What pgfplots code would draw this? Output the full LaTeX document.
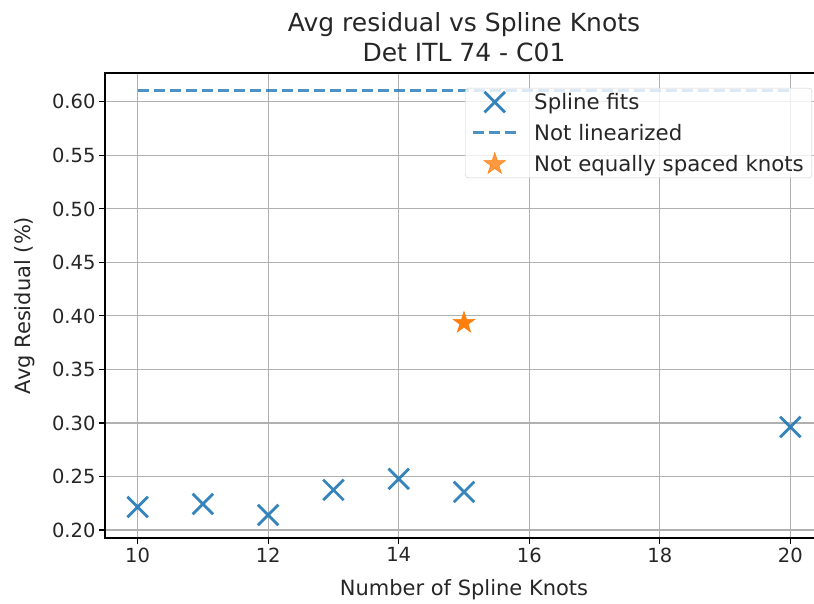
\documentclass[border=0pt]{standalone}
\usepackage{pgfplots}
\pgfplotsset{compat=1.18}
\usepackage{fontspec}
\setmainfont{DejaVu Sans}
\usetikzlibrary{plotmarks}
\definecolor{mplblue}{HTML}{1F77B4}
\definecolor{mplorange}{HTML}{FF7F0E}
\definecolor{gridgray}{HTML}{B0B0B0}
\pgfdeclareplotmark{fstar}{%
  \pgfpathmoveto{\pgfpointpolar{90}{\pgfplotmarksize}}%
  \pgfpathlineto{\pgfpointpolar{126}{0.382\pgfplotmarksize}}%
  \pgfpathlineto{\pgfpointpolar{162}{\pgfplotmarksize}}%
  \pgfpathlineto{\pgfpointpolar{198}{0.382\pgfplotmarksize}}%
  \pgfpathlineto{\pgfpointpolar{234}{\pgfplotmarksize}}%
  \pgfpathlineto{\pgfpointpolar{270}{0.382\pgfplotmarksize}}%
  \pgfpathlineto{\pgfpointpolar{306}{\pgfplotmarksize}}%
  \pgfpathlineto{\pgfpointpolar{342}{0.382\pgfplotmarksize}}%
  \pgfpathlineto{\pgfpointpolar{18}{\pgfplotmarksize}}%
  \pgfpathlineto{\pgfpointpolar{54}{0.382\pgfplotmarksize}}%
  \pgfpathclose
  \pgfusepathqfillstroke}
\pgfplotsset{
  legmark/.style={legend image code/.code={\draw[mark repeat=2,mark phase=2,##1] plot coordinates {(0pt,0pt)(22pt,0pt)(44pt,0pt)};}},
  legline/.style={legend image code/.code={\draw[##1] (0pt,0pt) -- (44pt,0pt);}},
}
\begin{document}
\begin{tikzpicture}
\begin{axis}[
  scale only axis,
  width=718pt, height=465pt,
  xmin=9.5, xmax=20.5,
  ymin=0.1925, ymax=0.627,
  xtick={10,12,...,20},
  ytick={0.20,0.25,...,0.61},
  yticklabel style={/pgf/number format/.cd, fixed, fixed zerofill, precision=2},
  /pgf/number format/assume math mode=true,
  tick label style={font=\fontsize{19.5}{23}\selectfont, text=black!85},
  label style={font=\fontsize{21}{25}\selectfont, text=black!85},
  title style={font=\fontsize{25}{30}\selectfont, align=center, text=black!85, yshift=2pt},
  title={Avg residual vs Spline Knots\\Det ITL 74 - C01},
  xlabel={Number of Spline Knots},
  ylabel={Avg Residual (\%)},
  xlabel style={yshift=-10pt},
  ylabel style={yshift=10pt},
  grid=major,
  grid style={gridgray, line width=1.1pt},
  axis line style={black, line width=1.1pt},
  tick style={black, line width=1.1pt},
  tick align=outside,
  major tick length=6pt,
  xtick pos=bottom, ytick pos=left,
  legend cell align=left,
  legend style={at={(1,1)}, anchor=north east, xshift=-11pt, yshift=-15pt,
    draw=black!20, rounded corners=3pt, fill=white, fill opacity=0.8, text opacity=1,
    font=\fontsize{21.3}{25}\selectfont, text=black!85,
    row sep=9pt, inner xsep=6pt, inner ysep=3pt,
    /tikz/every odd column/.append style={column sep=14pt}},
]
\addplot[only marks, mark=x, mark size=14.5pt, mplblue, opacity=0.9, line width=2.8pt, legmark]
  coordinates {(10,0.2215) (11,0.2243) (12,0.2140) (13,0.2374) (14,0.2477) (15,0.2355) (20,0.2963)};
\addlegendentry{Spline fits}
\addplot[mplblue, opacity=0.8, line width=3pt, dash pattern=on 11pt off 5pt, legline]
  coordinates {(10,0.6103) (20,0.6103)};
\addlegendentry{Not linearized}
\addplot[only marks, mark=fstar, mark size=11.5pt, mplorange, mark options={fill=mplorange, draw=mplorange, line width=0.5pt}, legmark]
  coordinates {(15,0.3935)};
\addlegendentry{Not equally spaced knots}
\coordinate (sw) at (rel axis cs:0,0);
\coordinate (ne) at (rel axis cs:1,1);
\end{axis}
\pgfresetboundingbox
\path[use as bounding box] ([shift={(-105pt,-66pt)}]sw) rectangle ([shift={(-9pt,73pt)}]ne);
\end{tikzpicture}
\end{document}
